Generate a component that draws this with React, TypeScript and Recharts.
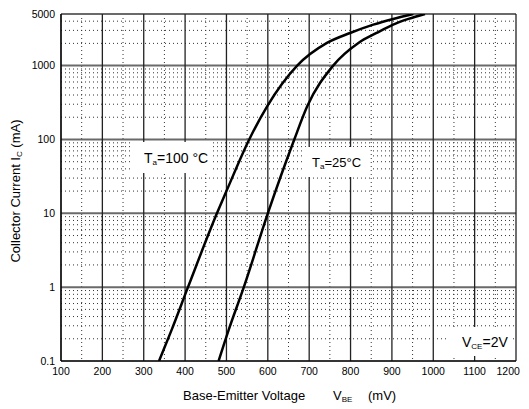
import { LineChart, Line, XAxis, YAxis, CartesianGrid, Customized } from "recharts";

// V_BE (mV) vs I_C (mA)
const ic100 = [0.1, 0.26, 1, 10, 20, 100, 279, 1000, 2028, 2768, 3590, 4287, 5000];
const vbe100 = [337, 367, 407, 477, 500, 555, 598, 671, 743, 799, 855, 903, 952];
const ic25 = [0.1, 0.26, 1, 10, 100, 279, 1000, 2028, 2768, 3590, 4287, 5000];
const vbe25 = [481, 505, 542, 600, 664, 695, 758, 819, 863, 903, 940, 980];

const xTicks = [100, 200, 300, 400, 500, 600, 700, 800, 900, 1000, 1100, 1200];
const yTicks = [0.1, 1, 10, 100, 1000, 5000];
const xMinor = [150, 250, 350, 450, 550, 650, 750, 850, 950, 1050, 1150];
const yMinor = [
  0.2, 0.3, 0.4, 0.5, 0.6, 0.7, 0.8, 0.9,
  2, 3, 4, 5, 6, 7, 8, 9,
  20, 30, 40, 50, 60, 70, 80, 90,
  200, 300, 400, 500, 600, 700, 800, 900,
  2000, 3000, 4000,
];

const curve100 = vbe100.map((v, i) => ({ vbe: v, ic: ic100[i] }));
const curve25 = vbe25.map((v, i) => ({ vbe: v, ic: ic25[i] }));

const FONT = '"Liberation Sans", Arial, sans-serif';
const VISIBLE_W = 513; // anything past this gets cut off on the page

function XTick(props: any) {
  const { x, y, payload } = props;
  const label = String(payload.value);
  const half = label.length * 2.95;
  const cx = Math.min(x, VISIBLE_W - half - 1);
  return (
    <text x={cx} y={y} dy="0.71em" textAnchor="middle" fill="#000" fontSize={10.5} fontFamily={FONT}>
      {label}
    </text>
  );
}

function Annotations() {
  return (
    <g fontFamily={FONT} fill="#000">
      <rect x={125} y={134} width={79} height={31} fill="#fff" />
      <text x={136} y={155} fontSize={14}>
        T<tspan fontSize={8} dy={2}>a</tspan>
        <tspan dy={-2}>=100 °C</tspan>
      </text>
      <rect x={295} y={139} width={67} height={30} fill="#fff" />
      <text x={304} y={159} fontSize={13}>
        T<tspan fontSize={8} dy={2}>a</tspan>
        <tspan dy={-2}>=25°C</tspan>
      </text>
      <rect x={440} y={319} width={64} height={29} fill="#fff" />
      <text x={454} y={339} fontSize={14}>
        V<tspan fontSize={8} dy={2}>CE</tspan>
        <tspan dy={-2}>=2V</tspan>
      </text>
      <text x={175} y={392} fontSize={13}>Base-Emitter Voltage</text>
      <text x={325} y={392} fontSize={13}>
        V<tspan fontSize={8} dy={2}>BE</tspan>
      </text>
      <text x={360} y={392} fontSize={13}>(mV)</text>
      <text x={12} y={183} fontSize={13} textAnchor="middle" transform="rotate(-90 12 183)">
        Collector Current I<tspan fontSize={8} dy={2}>C</tspan>
        <tspan dy={-2}> (mA)</tspan>
      </text>
    </g>
  );
}

export default function App() {
  return (
    <LineChart width={521} height={401} margin={{ top: 6, right: 13, bottom: 0, left: 0 }}>
      <XAxis
        dataKey="vbe"
        type="number"
        domain={[100, 1200]}
        ticks={xTicks}
        interval={0}
        allowDataOverflow
        height={48}
        tickSize={0}
        tickMargin={7}
        tick={<XTick />}
        axisLine={{ stroke: "#000", strokeWidth: 1.2 }}
      />
      <YAxis
        dataKey="ic"
        type="number"
        scale="log"
        domain={[0.1, 5000]}
        ticks={yTicks}
        interval={0}
        allowDataOverflow
        width={53}
        tickSize={0}
        tickMargin={6}
        tick={{ fill: "#000", fontSize: 10.5, fontFamily: FONT }}
        axisLine={{ stroke: "#000", strokeWidth: 1.2 }}
      />
      <CartesianGrid
        horizontalValues={yMinor}
        verticalValues={xMinor}
        stroke="#333"
        strokeDasharray="1 3"
        strokeWidth={1}
      />
      <Customized component={Annotations} />
      <CartesianGrid
        horizontalValues={yTicks}
        vertical={false}
        stroke="#6a6a6a"
        strokeWidth={2}
      />
      <CartesianGrid
        verticalValues={xTicks}
        horizontal={false}
        stroke="#222"
        strokeWidth={1.3}
      />
      <Line
        data={curve100}
        dataKey="ic"
        type="monotone"
        stroke="#000"
        strokeWidth={2.5}
        dot={false}
        isAnimationActive={false}
      />
      <Line
        data={curve25}
        dataKey="ic"
        type="monotone"
        stroke="#000"
        strokeWidth={2.5}
        dot={false}
        isAnimationActive={false}
      />
    </LineChart>
  );
}
